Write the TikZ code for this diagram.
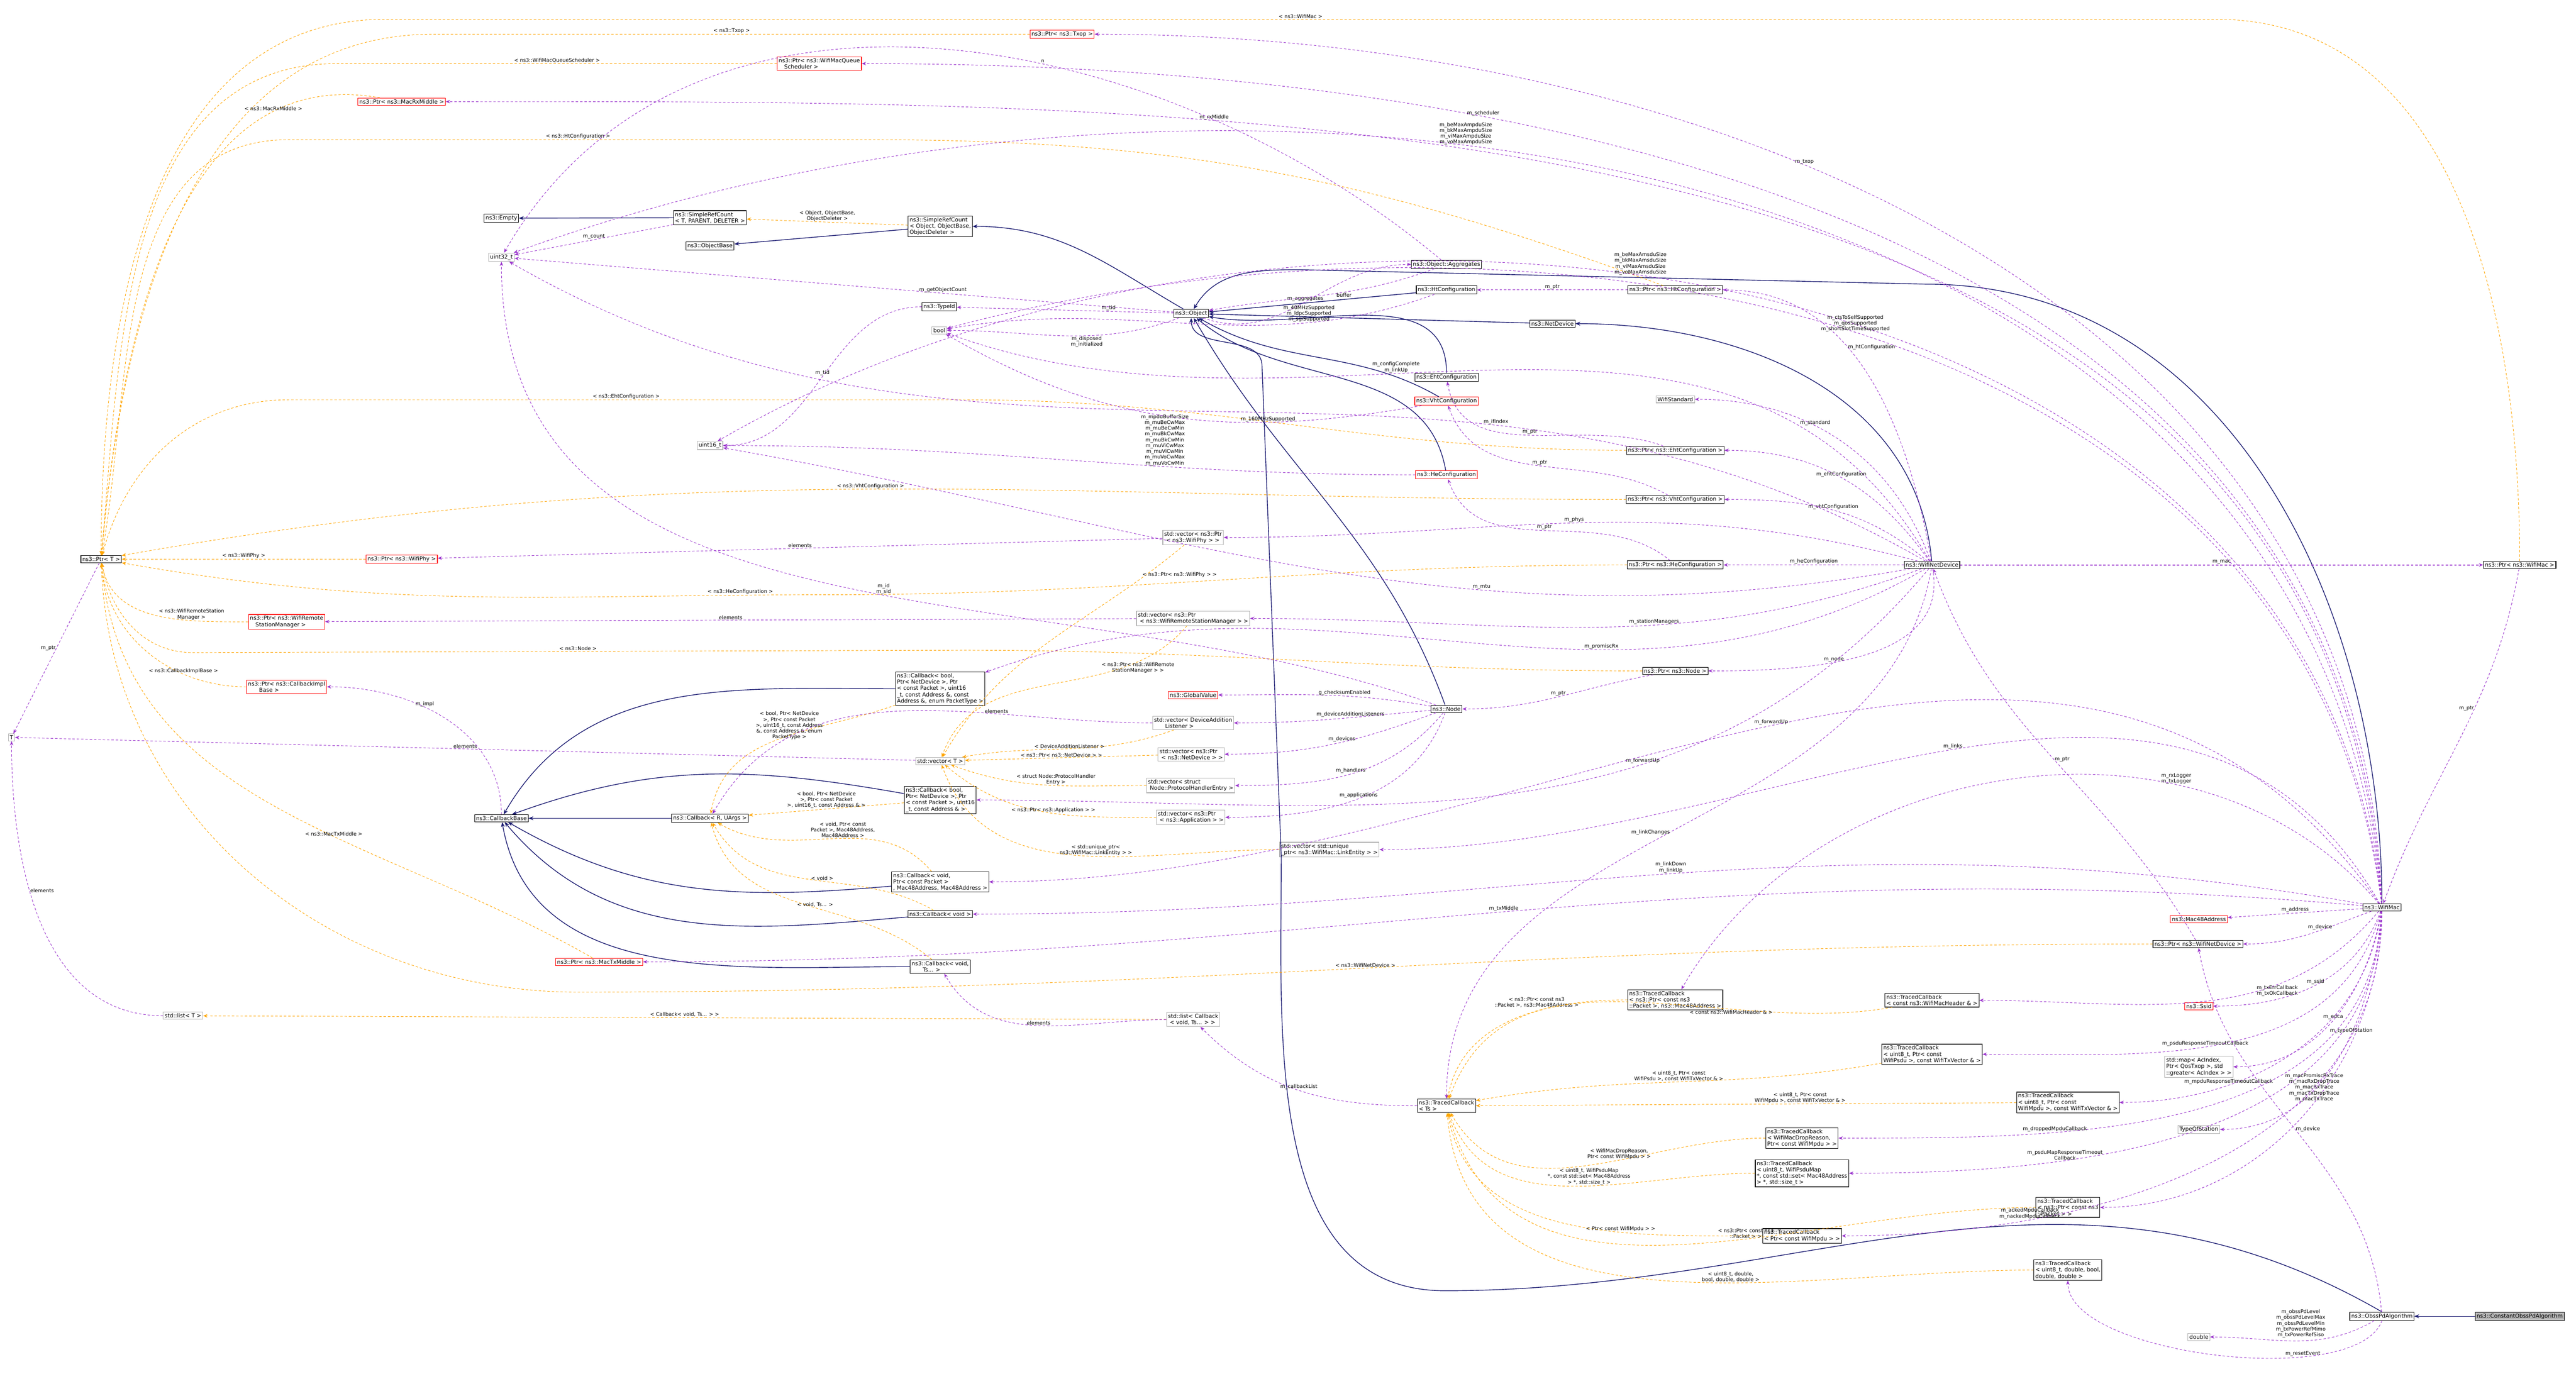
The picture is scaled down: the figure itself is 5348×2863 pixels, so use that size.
\documentclass[tikz,border=0pt]{standalone}
\usepackage{fontspec}
\setmainfont{DejaVu Sans}
\usetikzlibrary{arrows.meta}
\definecolor{usecol}{RGB}{153,50,204}
\definecolor{tplcol}{RGB}{255,165,0}
\definecolor{inhcol}{RGB}{25,25,112}
\tikzset{
  cls/.style={draw=black, fill=white, align=left, inner sep=0.3pt, line width=0.12pt, font=\fontsize{1.15}{1.3}\selectfont},
  redcls/.style={cls, draw=red},
  graycls/.style={cls, draw=black!30},
  uses/.style={usecol, dashed, dash pattern=on 0.5pt off 0.4pt, -{Stealth[length=0.9pt,width=0.7pt]}},
  tpl/.style={tplcol, dashed, dash pattern=on 0.5pt off 0.4pt, -{Stealth[length=0.9pt,width=0.7pt]}},
  inh/.style={inhcol, line width=0.15pt, -{Stealth[length=1pt,width=0.8pt,open]}},
  lbl/.style={black, align=center, font=\fontsize{1.05}{1.2}\selectfont, inner sep=0.1pt}
}
\begin{document}
\begin{tikzpicture}[x=0.1pt, y=-0.1pt, line width=0.1pt]
  \useasboundingbox (0,0) rectangle (5348,2863);

  % left column
  \node[cls] (ptrT) at (210,1161) {ns3::Ptr< T >};
  \node[graycls] (tT) at (24,1531) {T};
  \node[graycls] (listT) at (380,2109) {std::list< T >};
  \node[redcls] (txop) at (2205,71) {ns3::Ptr< ns3::Txop >};
  \node[redcls] (sched) at (1701,132) {ns3::Ptr< ns3::WifiMacQueue\\\quad Scheduler >};
  \node[redcls] (rxmid) at (834,211) {ns3::Ptr< ns3::MacRxMiddle >};
  \node[redcls] (ptrPhy) at (834,1161) {ns3::Ptr< ns3::WifiPhy >};
  \node[redcls] (ptrRsm) at (595,1291) {ns3::Ptr< ns3::WifiRemote\\\quad StationManager >};
  \node[redcls] (ptrCbImpl) at (595,1426) {ns3::Ptr< ns3::CallbackImpl\\\qquad Base >};
  \node[redcls] (ptrTxmid) at (1244,1997) {ns3::Ptr< ns3::MacTxMiddle >};

  % object core
  \node[cls] (empty) at (1041,453) {ns3::Empty};
  \node[cls] (srcT) at (1474,452) {ns3::SimpleRefCount\\< T, PARENT, DELETER >};
  \node[cls] (srcObj) at (1952,470) {ns3::SimpleRefCount\\< Object, ObjectBase,\\ ObjectDeleter >};
  \node[cls] (objbase) at (1474,511) {ns3::ObjectBase};
  \node[graycls] (u32) at (1041,534) {uint32\_t};
  \node[cls] (object) at (2473,651) {ns3::Object};
  \node[cls] (typeid) at (1950,637) {ns3::TypeId};
  \node[graycls] (boolN) at (1950,686) {bool};
  \node[graycls] (u16) at (1474,925) {uint16\_t};
  \node[cls] (aggr) at (3003,549) {ns3::Object::Aggregates};
  \node[cls] (htcfg) at (3003,602) {ns3::HtConfiguration};
  \node[cls] (ptrHt) at (3478,602) {ns3::Ptr< ns3::HtConfiguration >};
  \node[cls] (netdev) at (3223,672) {ns3::NetDevice};
  \node[cls] (ehtcfg) at (3003,783) {ns3::EhtConfiguration};
  \node[redcls] (vhtcfg) at (3003,833) {ns3::VhtConfiguration};
  \node[graycls] (wstd) at (3478,829) {WifiStandard};
  \node[cls] (ptrEht) at (3478,935) {ns3::Ptr< ns3::EhtConfiguration >};
  \node[redcls] (hecfg) at (3003,986) {ns3::HeConfiguration};
  \node[cls] (ptrVht) at (3478,1037) {ns3::Ptr< ns3::VhtConfiguration >};
  \node[cls] (ptrHe) at (3478,1173) {ns3::Ptr< ns3::HeConfiguration >};
  \node[cls] (wnd) at (4011,1173) {ns3::WifiNetDevice};
  \node[cls] (ptrMac) at (5231,1173) {ns3::Ptr< ns3::WifiMac >};
  \node[cls] (ptrNode) at (3478,1393) {ns3::Ptr< ns3::Node >};
  \node[cls] (node) at (3003,1472) {ns3::Node};

  % containers and callbacks
  \node[graycls] (vecPhy) at (2477,1116) {std::vector< ns3::Ptr\\\ < ns3::WifiPhy > >};
  \node[graycls] (vecRsm) at (2477,1284) {std::vector< ns3::Ptr\\\ < ns3::WifiRemoteStationManager > >};
  \node[redcls] (globalv) at (2477,1443) {ns3::GlobalValue};
  \node[cls] (cbPkt) at (1952,1430) {ns3::Callback< bool,\\ Ptr< NetDevice >, Ptr\\ < const Packet >, uint16\\ \_t, const Address \&, const\\ Address \&, enum PacketType >};
  \node[graycls] (vecDal) at (2477,1501) {std::vector< DeviceAddition\\\qquad Listener >};
  \node[graycls] (vecT) at (1952,1580) {std::vector< T >};
  \node[graycls] (vecNd) at (2473,1566) {std::vector< ns3::Ptr\\\ < ns3::NetDevice > >};
  \node[graycls] (vecPhe) at (2472,1631) {std::vector< struct\\\ Node::ProtocolHandlerEntry >};
  \node[graycls] (vecApp) at (2472,1697) {std::vector< ns3::Ptr\\\ < ns3::Application > >};
  \node[cls] (cbBase) at (1041,1699) {ns3::CallbackBase};
  \node[cls] (cbR) at (1474,1699) {ns3::Callback< R, UArgs >};
  \node[cls] (cbAddr) at (1952,1661) {ns3::Callback< bool,\\ Ptr< NetDevice >, Ptr\\ < const Packet >, uint16\\ \_t, const Address \& >};
  \node[graycls] (vecLink) at (2760,1764) {std::vector< std::unique\\ \_ptr< ns3::WifiMac::LinkEntity > >};
  \node[cls] (cbMac48) at (1952,1831) {ns3::Callback< void,\\ Ptr< const Packet >\\ , Mac48Address, Mac48Address >};
  \node[cls] (cbVoid) at (1952,1898) {ns3::Callback< void >};
  \node[cls] (cbTs) at (1952,2007) {ns3::Callback< void,\\\qquad Ts... >};
  \node[graycls] (listCb) at (2477,2117) {std::list< Callback\\\ < void, Ts... > >};

  % wifi mac side
  \node[cls] (wmac) at (4945,1884) {ns3::WifiMac};
  \node[redcls] (mac48) at (4565,1909) {ns3::Mac48Address};
  \node[cls] (ptrWnd) at (4563,1960) {ns3::Ptr< ns3::WifiNetDevice >};
  \node[cls] (tcPktMac) at (3478,2076) {ns3::TracedCallback\\< ns3::Ptr< const ns3\\::Packet >, ns3::Mac48Address >};
  \node[cls] (tcHdr) at (4011,2077) {ns3::TracedCallback\\< const ns3::WifiMacHeader \& >};
  \node[redcls] (ssid) at (4565,2089) {ns3::Ssid};
  \node[cls] (tcPsdu) at (4011,2189) {ns3::TracedCallback\\< uint8\_t, Ptr< const\\ WifiPsdu >, const WifiTxVector \& >};
  \node[graycls] (mapEdca) at (4565,2215) {std::map< AcIndex,\\ Ptr< QosTxop >, std\\ ::greater< AcIndex > >};
  \node[cls] (tcTs) at (3003,2296) {ns3::TracedCallback\\< Ts >};
  \node[cls] (tcMpdu) at (4293,2289) {ns3::TracedCallback\\< uint8\_t, Ptr< const\\ WifiMpdu >, const WifiTxVector \& >};
  \node[graycls] (tos) at (4565,2345) {TypeOfStation};
  \node[cls] (tcDrop) at (3741,2363) {ns3::TracedCallback\\< WifiMacDropReason,\\ Ptr< const WifiMpdu > >};
  \node[cls] (tcPsduMap) at (3741,2436) {ns3::TracedCallback\\< uint8\_t, WifiPsduMap\\ *, const std::set< Mac48Address\\ > *, std::size\_t >};
  \node[cls] (tcPkt) at (4293,2507) {ns3::TracedCallback\\< ns3::Ptr< const ns3\\ ::Packet > >};
  \node[cls] (tcAck) at (3741,2566) {ns3::TracedCallback\\< Ptr< const WifiMpdu > >};
  \node[cls] (tcDbl) at (4293,2637) {ns3::TracedCallback\\< uint8\_t, double, bool,\\ double, double >};
  \node[cls] (obss) at (4945,2733) {ns3::ObssPdAlgorithm};
  \node[cls, fill=black!30] (cobss) at (5231,2733) {ns3::ConstantObssPdAlgorithm};
  \node[graycls] (dbl) at (4565,2776) {double};

  % inheritance
  \draw[inh] (srcT) -- (empty);
  \draw[inh] (srcObj) -- (objbase);
  \draw[inh] (object) to[out=150, in=0] (srcObj);
  \draw[inh] (htcfg) -- (object);
  \draw[inh] (netdev) -- (object);
  \draw[inh] (ehtcfg) to[out=90, in=-10] (object);
  \draw[inh] (vhtcfg) to[out=150, in=-30] (object);
  \draw[inh] (hecfg) to[out=100, in=-40] (object);
  \draw[inh] (node) to[out=110, in=-60] (object);
  \draw[inh] (wnd) to[out=95, in=0] (netdev);
  \draw[inh] (wmac) to[out=90, in=0] (4000,590) -- (2700,560) to[out=180, in=60] (object);
  \draw[inh] (obss.north) to[out=150, in=0] (3000,2680) to[out=180, in=-90] (2660,1780) -- (2620,760) to[out=90, in=-90] (object);
  \draw[inh] (cobss) -- (obss);
  \draw[inh] (cbR) -- (cbBase);
  \draw[inh] (cbPkt) to[out=180, in=60] (cbBase);
  \draw[inh] (cbAddr) to[out=170, in=20] (cbBase);
  \draw[inh] (cbMac48) to[out=185, in=-30] (cbBase);
  \draw[inh] (cbVoid) to[out=185, in=-50] (cbBase);
  \draw[inh] (cbTs) to[out=180, in=-80] (cbBase);

  % template instances
  \draw[tpl] (ptrMac) to[out=90, in=0] (4600,40) -- node[lbl, above] {< ns3::WifiMac >} (800,40) to[out=180, in=90] (ptrT);
  \draw[tpl] (txop) -- node[lbl, above] {< ns3::Txop >} (900,71) to[out=180, in=85] (ptrT);
  \draw[tpl] (sched) -- node[lbl, above] {< ns3::WifiMacQueueScheduler >} (700,132) to[out=180, in=85] (ptrT);
  \draw[tpl] (rxmid) to[out=170, in=85] node[lbl, pos=0.2, above] {< ns3::MacRxMiddle >} (ptrT);
  \draw[tpl] (ptrHt) to[out=160, in=0] (1800,290) -- node[lbl, above] {< ns3::HtConfiguration >} (600,290) to[out=180, in=80] (ptrT);
  \draw[tpl] (ptrEht) to[out=180, in=0] (2000,830) -- node[lbl, above] {< ns3::EhtConfiguration >} (600,830) to[out=180, in=75] (ptrT);
  \draw[tpl] (ptrVht) to[out=180, in=10] node[lbl, pos=0.5, above] {< ns3::VhtConfiguration >} (ptrT);
  \draw[tpl] (ptrHe) to[out=180, in=0] (1700,1235) to[out=180, in=-10] node[lbl, pos=0.1, above] {< ns3::HeConfiguration >} (ptrT);
  \draw[tpl, line width=0.2pt] (ptrPhy) -- node[lbl, above] {< ns3::WifiPhy >} (ptrT);
  \draw[tpl] (ptrRsm) to[out=180, in=-80] node[lbl, pos=0.3, above] {< ns3::WifiRemoteStation\\Manager >} (ptrT);
  \draw[tpl] (ptrNode) to[out=180, in=0] (2000,1350) -- node[lbl, above] {< ns3::Node >} (400,1355) to[out=180, in=-80] (ptrT);
  \draw[tpl] (ptrCbImpl) to[out=180, in=-85] node[lbl, pos=0.3, above] {< ns3::CallbackImplBase >} (ptrT);
  \draw[tpl] (ptrTxmid) to[out=150, in=-85] node[lbl, pos=0.4, above] {< ns3::MacTxMiddle >} (ptrT);
  \draw[tpl] (ptrWnd) to[out=180, in=0] node[lbl, pos=0.5, above] {< ns3::WifiNetDevice >} (1200,2060) to[out=180, in=-88] (ptrT);
  \draw[tpl] (srcObj) -- node[lbl, above] {< Object, ObjectBase,\\ObjectDeleter >} (srcT);
  \draw[tpl] (vecPhy) to[out=220, in=60] node[lbl, pos=0.15, above right] {< ns3::Ptr< ns3::WifiPhy > >} (vecT);
  \draw[tpl] (vecRsm) to[out=230, in=70] node[lbl, pos=0.2, below] {< ns3::Ptr< ns3::WifiRemote\\StationManager > >} (vecT);
  \draw[tpl] (vecDal) to[out=200, in=10] node[lbl, pos=0.5, above] {< DeviceAdditionListener >} (vecT);
  \draw[tpl] (vecNd) -- node[lbl, above] {< ns3::Ptr< ns3::NetDevice > >} (vecT);
  \draw[tpl] (vecPhe) to[out=180, in=-20] node[lbl, pos=0.45, above] {< struct Node::ProtocolHandler\\Entry >} (vecT);
  \draw[tpl] (vecApp) to[out=180, in=-40] node[lbl, pos=0.45, above] {< ns3::Ptr< ns3::Application > >} (vecT);
  \draw[tpl] (vecLink) to[out=180, in=-70] node[lbl, pos=0.45, above] {< std::unique\_ptr<\\ns3::WifiMac::LinkEntity > >} (vecT);
  \draw[tpl] (cbPkt) to[out=200, in=80] node[lbl, pos=0.3, left] {< bool, Ptr< NetDevice\\>, Ptr< const Packet\\>, uint16\_t, const Address\\\&, const Address \&, enum\\PacketType >} (cbR);
  \draw[tpl] (cbAddr) -- node[lbl, above] {< bool, Ptr< NetDevice\\>, Ptr< const Packet\\>, uint16\_t, const Address \& >} (cbR);
  \draw[tpl] (cbMac48) to[out=130, in=-30] node[lbl, pos=0.45, above] {< void, Ptr< const\\Packet >, Mac48Address,\\Mac48Address >} (cbR);
  \draw[tpl] (cbVoid) to[out=150, in=-60] node[lbl, pos=0.45, above] {< void >} (cbR);
  \draw[tpl] (cbTs) to[out=140, in=-75] node[lbl, pos=0.45, above] {< void, Ts... >} (cbR);
  \draw[tpl] (listCb) -- node[lbl, above] {< Callback< void, Ts... > >} (listT);
  \draw[tpl] (tcPktMac) to[out=180, in=80] node[lbl, pos=0.2, left] {< ns3::Ptr< const ns3\\::Packet >, ns3::Mac48Address >} (tcTs);
  \draw[tpl] (tcHdr) to[out=190, in=70] node[lbl, pos=0.3, below] {< const ns3::WifiMacHeader \& >} (tcTs);
  \draw[tpl] (tcPsdu) to[out=190, in=10] node[lbl, pos=0.5, above] {< uint8\_t, Ptr< const\\WifiPsdu >, const WifiTxVector \& >} (tcTs);
  \draw[tpl] (tcMpdu) -- node[lbl, pos=0.4, above] {< uint8\_t, Ptr< const\\WifiMpdu >, const WifiTxVector \& >} (tcTs);
  \draw[tpl] (tcDrop) to[out=180, in=-60] node[lbl, pos=0.4, above] {< WifiMacDropReason,\\Ptr< const WifiMpdu > >} (tcTs);
  \draw[tpl] (tcPsduMap) to[out=180, in=-70] node[lbl, pos=0.45, above] {< uint8\_t, WifiPsduMap\\*, const std::set< Mac48Address\\> *, std::size\_t >} (tcTs);
  \draw[tpl] (tcPkt) to[out=180, in=-75] node[lbl, pos=0.4, above] {< ns3::Ptr< const ns3\\::Packet > >} (tcTs);
  \draw[tpl] (tcAck) to[out=180, in=-80] node[lbl, pos=0.35, above] {< Ptr< const WifiMpdu > >} (tcTs);
  \draw[tpl] (tcDbl) to[out=180, in=-85] node[lbl, pos=0.4, above] {< uint8\_t, double,\\bool, double, double >} (tcTs);

  % members of the object core
  \draw[uses] (object) -- node[lbl, pos=0.35, above] {m\_getObjectCount} (u32);
  \draw[uses] (srcT) -- node[lbl, above] {m\_count} (u32);
  \draw[uses] (object) -- node[lbl, pos=0.3, above] {m\_tid} (typeid);
  \draw[uses] (object) to[out=200, in=0] node[lbl, pos=0.4, below] {m\_disposed\\m\_initialized} (boolN);
  \draw[uses] (object) to[out=-20, in=180] node[lbl, pos=0.5, above] {m\_aggregates} (aggr);
  \draw[uses] (aggr) to[out=200, in=10] node[lbl, pos=0.4, below] {buffer} (object);
  \draw[uses] (aggr) to[out=140, in=60] node[lbl, pos=0.4, above] {n} (u32);
  \draw[uses] (htcfg) to[out=200, in=10] node[lbl, pos=0.25, above] {m\_40MHzSupported\\m\_ldpcSupported\\m\_sgiSupported} (boolN);
  \draw[uses] (vhtcfg) to[out=190, in=-30] node[lbl, pos=0.3, above] {m\_160MHzSupported} (boolN);
  \draw[uses] (hecfg) to[out=180, in=0] node[lbl, pos=0.35, above] {m\_mpduBufferSize\\m\_muBeCwMax\\m\_muBeCwMin\\m\_muBkCwMax\\m\_muBkCwMin\\m\_muViCwMax\\m\_muViCwMin\\m\_muVoCwMax\\m\_muVoCwMin} (u16);
  \draw[uses] (typeid) to[out=180, in=0] node[lbl, pos=0.5, above] {m\_tid} (u16);
  \draw[uses] (ptrHt) -- node[lbl, above] {m\_ptr} (htcfg);
  \draw[uses] (ptrEht) to[out=160, in=-80] node[lbl, pos=0.5, above] {m\_ptr} (ehtcfg);
  \draw[uses] (ptrVht) to[out=150, in=-70] node[lbl, pos=0.5, above] {m\_ptr} (vhtcfg);
  \draw[uses] (ptrHe) to[out=140, in=-70] node[lbl, pos=0.5, above] {m\_ptr} (hecfg);
  \draw[uses] (ptrNode) to[out=190, in=0] node[lbl, pos=0.5, above] {m\_ptr} (node);
  \draw[uses] (node) to[out=170, in=0] node[lbl, pos=0.4, above] {g\_checksumEnabled} (globalv);
  \draw[uses] (node) to[out=185, in=0] node[lbl, pos=0.4, above] {m\_deviceAdditionListeners} (vecDal);
  \draw[uses] (node) to[out=200, in=0] node[lbl, pos=0.45, above] {m\_devices} (vecNd);
  \draw[uses] (node) to[out=230, in=0] node[lbl, pos=0.5, above] {m\_handlers} (vecPhe);
  \draw[uses] (node) to[out=250, in=0] node[lbl, pos=0.5, above] {m\_applications} (vecApp);
  \draw[uses] (node) to[out=160, in=-90] node[lbl, pos=0.45, above] {m\_id\\m\_sid} (u32);
  \draw[uses] (vecPhy) -- node[lbl, above] {elements} (ptrPhy);
  \draw[uses] (vecRsm) -- node[lbl, above] {elements} (ptrRsm);
  \draw[uses] (vecT) -- node[lbl, above] {elements} (tT);
  \draw[uses] (vecDal) to[out=180, in=60] node[lbl, pos=0.3, above] {elements} (cbR);
  \draw[uses] (ptrT) -- node[lbl, left] {m\_ptr} (tT);
  \draw[uses] (listT) to[out=180, in=-90] node[lbl, pos=0.6, right] {elements} (tT);
  \draw[uses] (listCb) to[out=180, in=-60] node[lbl, pos=0.5, above] {elements} (cbTs);
  \draw[uses] (tcTs) to[out=180, in=-45] node[lbl, pos=0.5, above] {m\_callbackList} (listCb);
  \draw[uses] (cbBase) to[out=90, in=0] node[lbl, pos=0.6, above] {m\_impl} (ptrCbImpl);

  % members of WifiNetDevice
  \draw[uses] (wnd) to[out=100, in=0] node[lbl, pos=0.6, right] {m\_htConfiguration} (ptrHt);
  \draw[uses] (wnd) to[out=110, in=0] node[lbl, pos=0.6, above] {m\_standard} (wstd);
  \draw[uses] (wnd) to[out=120, in=-20] node[lbl, pos=0.6, above] {m\_configComplete\\m\_linkUp} (boolN);
  \draw[uses] (wnd) to[out=125, in=0] node[lbl, pos=0.5, above] {m\_ehtConfiguration} (ptrEht);
  \draw[uses] (wnd) to[out=140, in=0] node[lbl, pos=0.5, above] {m\_vhtConfiguration} (ptrVht);
  \draw[uses] (wnd) -- node[lbl, above] {m\_heConfiguration} (ptrHe);
  \draw[uses, line width=0.18pt] (wnd) -- node[lbl, above] {m\_mac} (ptrMac);
  \draw[uses] (wnd) to[out=165, in=0] node[lbl, pos=0.5, above] {m\_phys} (vecPhy);
  \draw[uses] (wnd) to[out=190, in=-10] node[lbl, pos=0.35, above] {m\_mtu} (u16);
  \draw[uses] (wnd) to[out=200, in=0] node[lbl, pos=0.4, above] {m\_stationManagers} (vecRsm);
  \draw[uses] (wnd) to[out=210, in=20] node[lbl, pos=0.35, above] {m\_promiscRx} (cbPkt);
  \draw[uses] (wnd) to[out=-80, in=0] node[lbl, pos=0.6, above] {m\_node} (ptrNode);
  \draw[uses] (wnd) to[out=150, in=-30] node[lbl, pos=0.3, above] {m\_ifIndex} (u32);
  \draw[uses] (wnd) to[out=230, in=0] node[lbl, pos=0.35, above] {m\_forwardUp} (cbAddr);
  \draw[uses] (wnd) to[out=-100, in=90] node[lbl, pos=0.5, left] {m\_linkChanges} (tcTs);

  % members of WifiMac
  \draw[uses] (ptrMac) to[out=-100, in=70] node[lbl, pos=0.4, left] {m\_ptr} (wmac);
  \draw[uses] (wmac) to[out=92, in=0] node[lbl, pos=0.6, above] {m\_txop} (txop);
  \draw[uses] (wmac) to[out=93, in=0] node[lbl, pos=0.7, above] {m\_scheduler} (sched);
  \draw[uses] (wmac) to[out=94, in=0] node[lbl, pos=0.7, above] {m\_rxMiddle} (rxmid);
  \draw[uses] (wmac) to[out=95, in=20] node[lbl, pos=0.6, above] {m\_beMaxAmpduSize\\m\_bkMaxAmpduSize\\m\_viMaxAmpduSize\\m\_voMaxAmpduSize} (u32);
  \draw[uses] (wmac) to[out=96, in=30] node[lbl, pos=0.55, above] {m\_beMaxAmsduSize\\m\_bkMaxAmsduSize\\m\_viMaxAmsduSize\\m\_voMaxAmsduSize} (u16);
  \draw[uses] (wmac) to[out=97, in=15] node[lbl, pos=0.5, above] {m\_ctsToSelfSupported\\m\_qosSupported\\m\_shortSlotTimeSupported} (boolN);
  \draw[uses] (wmac) to[out=120, in=0] node[lbl, pos=0.5, above] {m\_links} (vecLink);
  \draw[uses] (wmac) to[out=125, in=0] node[lbl, pos=0.5, above] {m\_forwardUp} (cbMac48);
  \draw[uses] (wmac) to[out=130, in=60] node[lbl, pos=0.3, above] {m\_rxLogger\\m\_txLogger} (tcPktMac);
  \draw[uses] (wmac) to[out=170, in=0] node[lbl, pos=0.5, above] {m\_linkDown\\m\_linkUp} (cbVoid);
  \draw[uses] (wmac) to[out=175, in=0] node[lbl, pos=0.5, above] {m\_txMiddle} (ptrTxmid);
  \draw[uses] (wmac) -- node[lbl, above] {m\_address} (mac48);
  \draw[uses] (wmac) to[out=200, in=0] node[lbl, pos=0.4, above] {m\_device} (ptrWnd);
  \draw[uses] (ptrWnd) to[out=120, in=-70] node[lbl, pos=0.5, right] {m\_ptr} (wnd);
  \draw[uses] (wmac) to[out=230, in=0] node[lbl, pos=0.3, below] {m\_txErrCallback\\m\_txOkCallback} (tcHdr);
  \draw[uses] (wmac) to[out=250, in=0] node[lbl, pos=0.5, above] {m\_ssid} (ssid);
  \draw[uses] (wmac) to[out=255, in=0] node[lbl, pos=0.55, above] {m\_psduResponseTimeoutCallback} (tcPsdu);
  \draw[uses] (wmac) to[out=260, in=0] node[lbl, pos=0.5, above] {m\_edca} (mapEdca);
  \draw[uses] (wmac) to[out=262, in=0] node[lbl, pos=0.7, above] {m\_mpduResponseTimeoutCallback} (tcMpdu);
  \draw[uses] (wmac) to[out=265, in=0] node[lbl, pos=0.4, above] {m\_typeOfStation} (tos);
  \draw[uses] (wmac) to[out=267, in=0] node[lbl, pos=0.7, above] {m\_droppedMpduCallback} (tcDrop);
  \draw[uses] (wmac) to[out=268, in=0] node[lbl, pos=0.7, above] {m\_psduMapResponseTimeout\\Callback} (tcPsduMap);
  \draw[uses] (wmac) to[out=269, in=0] node[lbl, pos=0.45, above] {m\_macPromiscRxTrace\\m\_macRxDropTrace\\m\_macRxTrace\\m\_macTxDropTrace\\m\_macTxTrace} (tcPkt);
  \draw[uses] (wmac) to[out=270, in=0] node[lbl, pos=0.75, above] {m\_ackedMpduCallback\\m\_nackedMpduCallback} (tcAck);

  % members of ObssPdAlgorithm
  \draw[uses] (obss) to[out=95, in=-80] node[lbl, pos=0.5, right] {m\_device} (ptrWnd);
  \draw[uses] (obss) to[out=-150, in=0] node[lbl, pos=0.3, above left] {m\_obssPdLevel\\m\_obssPdLevelMax\\m\_obssPdLevelMin\\m\_txPowerRefMimo\\m\_txPowerRefSiso} (dbl);
  \draw[uses] (obss.south) to[out=-110, in=-90, looseness=0.6] node[lbl, pos=0.3, above] {m\_resetEvent} (tcDbl);
\end{tikzpicture}
\end{document}
